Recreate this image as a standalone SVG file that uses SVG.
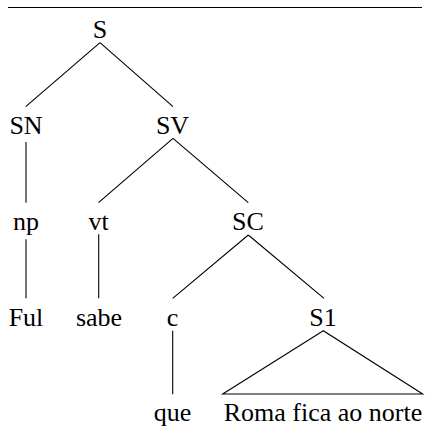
<svg xmlns="http://www.w3.org/2000/svg" width="428" height="431" viewBox="0 0 428 431" font-family="Liberation Serif, Times New Roman, serif">
  <style>
    text { font-size: 26px; fill: #000; text-anchor: middle; }
    .edge { stroke: #000; stroke-width: 1.1; fill: none; stroke-linecap: butt; }
  </style>
  <rect width="428" height="431" fill="#fff"/>
  <!-- rule above the tree -->
  <line class="edge" x1="8" y1="7.5" x2="422" y2="7.5"/>
  <g id="connectors">
    <path class="edge" d="M100 42.7 L25.7 106.7 M100 42.7 L173 106.7"/>
    <path class="edge" d="M26 142 V202.7"/>
    <path class="edge" d="M173 138.3 L98.5 202.7 M173 138.3 L248.3 202.7"/>
    <path class="edge" d="M26 239.3 V298.3"/>
    <path class="edge" d="M98.7 234.3 V298.3"/>
    <path class="edge" d="M248.3 235 L172.7 298.3 M248.3 235 L324 298.3"/>
    <path class="edge" d="M172.7 330.7 V394.3"/>
    <path class="edge" d="M323.3 330.7 L222.7 394 L422.7 394 Z"/>
  </g>
  <g id="n-S"><text x="100" y="37.5">S</text></g>
  <g id="n-SN"><text x="26" y="133.5">SN</text></g>
  <g id="n-SV"><text x="172.5" y="133.5">SV</text></g>
  <g id="n-np"><text x="26" y="229.5">np</text></g>
  <g id="n-vt"><text x="98.5" y="229.5">vt</text></g>
  <g id="n-SC"><text x="248" y="229.5">SC</text></g>
  <g id="n-Ful"><text x="26" y="325.5">Ful</text></g>
  <g id="n-sabe"><text x="99" y="325.5">sabe</text></g>
  <g id="n-c"><text x="172.5" y="325.5">c</text></g>
  <g id="n-S1"><text x="323" y="325.5">S1</text></g>
  <g id="n-que"><text x="172.5" y="421">que</text></g>
  <g id="n-roma"><text x="323" y="421">Roma fica ao norte</text></g>
</svg>
